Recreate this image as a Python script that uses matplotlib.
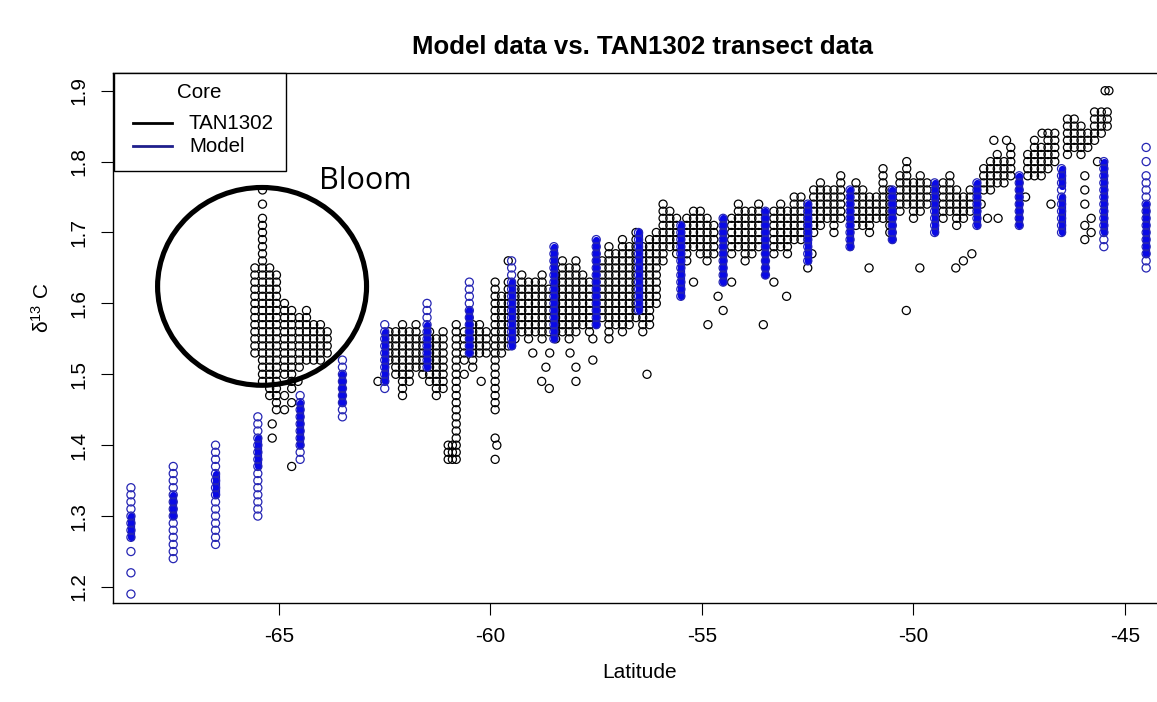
import numpy as np
import matplotlib
matplotlib.use("Agg")
import matplotlib.pyplot as plt
from matplotlib.patches import Ellipse, Rectangle
from matplotlib.lines import Line2D

plt.rcParams["font.family"] = ["Liberation Sans", "DejaVu Sans"]
plt.rcParams["mathtext.default"] = "regular"

# ---------------- data ----------------
TITLE = "Model data vs. TAN1302 transect data"
X_TICKS = [-65, -60, -55, -50, -45]
Y_TICKS = [1.2, 1.3, 1.4, 1.5, 1.6, 1.7, 1.8, 1.9]
LEGEND_TITLE = "Core"
SERIES = ["TAN1302", "Model"]

# TAN1302: sample columns (latitude, lowest, highest), circles every 0.01
TAN_COLUMNS = [
    (-65.57, 1.53, 1.64), (-65.39, 1.49, 1.72), (-65.22, 1.47, 1.65),
    (-65.06, 1.46, 1.64), (-64.87, 1.50, 1.60), (-64.70, 1.48, 1.59),
    (-64.52, 1.51, 1.58), (-64.35, 1.52, 1.59), (-64.18, 1.52, 1.57),
    (-64.02, 1.52, 1.57), (-63.86, 1.53, 1.56),
    (-62.40, 1.52, 1.56), (-62.24, 1.50, 1.56), (-62.08, 1.47, 1.57),
    (-61.92, 1.49, 1.56), (-61.76, 1.51, 1.57), (-61.60, 1.50, 1.55),
    (-61.44, 1.49, 1.56), (-61.28, 1.47, 1.55), (-61.12, 1.48, 1.56),
    (-61.00, 1.38, 1.40), (-60.90, 1.38, 1.40), (-60.81, 1.38, 1.57),
    (-60.62, 1.52, 1.56), (-60.42, 1.51, 1.57), (-60.26, 1.53, 1.57),
    (-60.10, 1.53, 1.56), (-59.89, 1.45, 1.63), (-59.74, 1.53, 1.61),
    (-59.58, 1.54, 1.63), (-59.42, 1.55, 1.62), (-59.26, 1.56, 1.64),
    (-59.10, 1.55, 1.63), (-58.94, 1.56, 1.63), (-58.78, 1.55, 1.64),
    (-58.62, 1.56, 1.62), (-58.46, 1.55, 1.64), (-58.30, 1.56, 1.66),
    (-58.14, 1.55, 1.65), (-57.98, 1.56, 1.66), (-57.82, 1.57, 1.64),
    (-57.66, 1.56, 1.63),
    (-57.36, 1.58, 1.66), (-57.20, 1.55, 1.68), (-57.04, 1.57, 1.67),
    (-56.88, 1.56, 1.69), (-56.72, 1.57, 1.68), (-56.56, 1.58, 1.70),
    (-56.40, 1.56, 1.68), (-56.24, 1.57, 1.69), (-56.08, 1.60, 1.70),
    (-55.92, 1.66, 1.74), (-55.76, 1.68, 1.73), (-55.60, 1.67, 1.72),
    (-55.36, 1.66, 1.72), (-55.20, 1.68, 1.73), (-55.04, 1.67, 1.73),
    (-54.88, 1.66, 1.72), (-54.72, 1.67, 1.71), (-54.30, 1.67, 1.72),
    (-54.14, 1.68, 1.74), (-53.98, 1.66, 1.73), (-53.82, 1.67, 1.73),
    (-53.66, 1.68, 1.74), (-53.30, 1.67, 1.73), (-53.14, 1.68, 1.74),
    (-52.98, 1.67, 1.73), (-52.82, 1.69, 1.75),
    (-52.66, 1.69, 1.75), (-52.36, 1.70, 1.76), (-52.20, 1.71, 1.77),
    (-52.04, 1.72, 1.76), (-51.88, 1.70, 1.76), (-51.72, 1.72, 1.78),
    (-51.36, 1.71, 1.77), (-51.20, 1.71, 1.76), (-51.04, 1.70, 1.75),
    (-50.88, 1.72, 1.75), (-50.72, 1.72, 1.79), (-50.56, 1.70, 1.76),
    (-50.32, 1.73, 1.78), (-50.16, 1.74, 1.80), (-50.00, 1.72, 1.77),
    (-49.84, 1.73, 1.78), (-49.68, 1.74, 1.77), (-49.30, 1.72, 1.77),
    (-49.14, 1.73, 1.78), (-48.98, 1.71, 1.76), (-48.82, 1.72, 1.75),
    (-48.66, 1.73, 1.76),
    (-48.34, 1.76, 1.79), (-48.18, 1.76, 1.80), (-48.02, 1.77, 1.81),
    (-47.86, 1.77, 1.80), (-47.70, 1.78, 1.82), (-47.30, 1.78, 1.81),
    (-47.14, 1.78, 1.83), (-46.98, 1.78, 1.82), (-46.82, 1.79, 1.84),
    (-46.66, 1.80, 1.84),
    (-46.36, 1.81, 1.86), (-46.20, 1.82, 1.86), (-46.04, 1.81, 1.85),
    (-45.88, 1.82, 1.84), (-45.72, 1.83, 1.87), (-45.56, 1.84, 1.87),
    (-45.42, 1.85, 1.87),
]
# TAN1302: isolated samples
TAN_LAT = [-65.57, -65.39, -65.39, -65.16, -65.16, -65.06, -64.87, -64.87,
           -64.70, -64.70, -64.55, -62.66, -60.62, -60.22, -59.89, -59.85,
           -59.89, -59.58, -59.00, -58.79, -58.69, -58.61, -58.60, -58.12,
           -57.98, -57.98, -57.58, -57.58, -56.30, -55.20, -54.62, -54.50,
           -54.86, -54.30, -53.30, -53.00, -53.55, -52.40, -52.50, -51.05,
           -50.17, -49.85, -49.00, -48.82, -48.62, -48.10, -47.80, -48.00,
           -47.35, -46.96, -46.75, -48.40, -48.25, -45.47, -45.38, -45.95,
           -45.95, -45.95, -45.95, -45.95, -45.80, -45.80, -45.65]
TAN_VAL = [1.65, 1.74, 1.76, 1.43, 1.41, 1.45, 1.47, 1.45,
           1.46, 1.37, 1.49, 1.49, 1.50, 1.49, 1.41, 1.40,
           1.38, 1.66, 1.53, 1.49, 1.51, 1.48, 1.53, 1.53,
           1.51, 1.49, 1.52, 1.55, 1.50, 1.63, 1.61, 1.59,
           1.57, 1.63, 1.63, 1.61, 1.57, 1.67, 1.65, 1.65,
           1.59, 1.65, 1.65, 1.66, 1.67, 1.83, 1.83, 1.72,
           1.75, 1.84, 1.74, 1.74, 1.72, 1.90, 1.90, 1.78,
           1.76, 1.74, 1.71, 1.69, 1.72, 1.70, 1.80]

# Model: columns of open circles (latitude, lowest, highest), every 0.01
MODEL_COLUMNS = [
    (-68.5, 1.27, 1.34), (-67.5, 1.24, 1.37), (-66.5, 1.26, 1.40),
    (-65.5, 1.30, 1.44), (-64.5, 1.38, 1.47), (-63.5, 1.44, 1.52),
    (-62.5, 1.48, 1.57), (-61.5, 1.51, 1.60), (-60.5, 1.53, 1.63),
    (-59.5, 1.54, 1.66), (-58.5, 1.55, 1.68), (-57.5, 1.57, 1.69),
    (-56.5, 1.59, 1.70), (-55.5, 1.61, 1.71), (-54.5, 1.63, 1.72),
    (-53.5, 1.64, 1.73), (-52.5, 1.66, 1.74), (-51.5, 1.68, 1.76),
    (-50.5, 1.69, 1.76), (-49.5, 1.70, 1.77), (-48.5, 1.71, 1.77),
    (-47.5, 1.71, 1.78), (-46.5, 1.70, 1.79), (-45.5, 1.68, 1.80),
    (-44.5, 1.65, 1.77),
]
# Model: densely overlapping runs (latitude, from, to)
MODEL_DENSE = [
    (-68.5, 1.27, 1.30), (-67.5, 1.30, 1.33), (-66.5, 1.33, 1.36),
    (-65.5, 1.37, 1.41), (-64.5, 1.40, 1.46), (-63.5, 1.46, 1.50),
    (-62.5, 1.49, 1.56), (-61.5, 1.51, 1.57), (-60.5, 1.53, 1.59),
    (-59.5, 1.54, 1.63), (-58.5, 1.55, 1.68), (-57.5, 1.57, 1.69),
    (-56.5, 1.59, 1.70), (-55.5, 1.61, 1.71), (-54.5, 1.63, 1.72),
    (-53.5, 1.64, 1.73), (-52.5, 1.66, 1.74), (-51.5, 1.68, 1.76),
    (-50.5, 1.69, 1.76), (-49.5, 1.70, 1.77), (-48.5, 1.71, 1.77),
    (-47.5, 1.71, 1.78), (-46.5, 1.70, 1.75), (-46.5, 1.765, 1.79),
    (-45.5, 1.70, 1.80), (-44.5, 1.67, 1.74),
]
MODEL_LAT = [-68.5, -68.5, -68.5, -44.5, -44.5, -44.5]
MODEL_VAL = [1.25, 1.22, 1.19, 1.78, 1.80, 1.82]

BLOOM_CENTER = (-65.40, 1.624)
BLOOM_SIZE = (4.94, 0.279)


def expand(columns):
    xs, ys = [], []
    for lat, lo, hi in columns:
        vals = np.round(np.arange(lo, hi + 0.001, 0.01), 2)
        xs.extend([lat] * len(vals))
        ys.extend(vals)
    return np.array(xs), np.array(ys)


tan_x, tan_y = expand(TAN_COLUMNS)
tan_x = np.concatenate([tan_x, TAN_LAT])
tan_y = np.concatenate([tan_y, TAN_VAL])
mod_x, mod_y = expand(MODEL_COLUMNS)
mod_x = np.concatenate([mod_x, MODEL_LAT])
mod_y = np.concatenate([mod_y, MODEL_VAL])

# ---------------- figure ----------------
W, H = 1157, 702
fig = plt.figure(figsize=(W / 100, H / 100), dpi=100)
ax = fig.add_axes([113 / W, 1 - 603 / H, (1167 - 113) / W, (603 - 72.7) / H])


def fx(x):
    return x / W


def fy(y):
    return 1 - y / H


BLUE = "#0a0ae6"
ax.scatter(tan_x, tan_y, s=34, facecolors="none", edgecolors="black",
           linewidths=0.9, zorder=2)
for lat, lo, hi in MODEL_DENSE:
    ax.vlines(lat, lo, hi, colors=BLUE, linewidth=5.2, capstyle="round", zorder=3)
ax.scatter(mod_x, mod_y, s=34, facecolors="none", edgecolors="#2626b4",
           linewidths=0.9, zorder=4)

ax.add_patch(Ellipse(BLOOM_CENTER, BLOOM_SIZE[0], BLOOM_SIZE[1], fill=False,
                     edgecolor="black", linewidth=3.7, zorder=5))
ax.text(-64.05, 1.761, "Bloom", fontsize=22, family=["Open Sans", "DejaVu Sans"],
        ha="left", va="baseline", zorder=6)

ax.set_xlim(-68.924, -44.007)
ax.set_ylim(1.1774, 1.9254)
ax.set_xticks(X_TICKS)
ax.set_xticklabels([str(t) for t in X_TICKS])
ax.set_yticks(Y_TICKS)
ax.set_yticklabels([f"{t:.1f}" for t in Y_TICKS], rotation=90, va="center")
ax.tick_params(axis="both", length=8.6, width=0.8, labelsize=15, color="black")
ax.tick_params(axis="x", pad=9)
ax.tick_params(axis="y", pad=9)
for sp in ax.spines.values():
    sp.set_linewidth(1.0)
ax.spines["right"].set_visible(False)

fig.text(fx(643), fy(47), TITLE, ha="center", va="center",
         fontsize=18.5, fontweight="bold")
fig.text(fx(640), fy(672), "Latitude", ha="center", va="center", fontsize=15)
fig.text(fx(42), fy(308), "δ$^{13}$ C", ha="center", va="center",
         rotation=90, fontsize=15)

# legend (R style box in the top-left corner)
fig.add_artist(Rectangle((fx(113.5), fy(171)), fx(286) - fx(113.5), fy(72.7) - fy(171),
                         transform=fig.transFigure, facecolor="white",
                         edgecolor="black", linewidth=1.0, zorder=10))
fig.text(fx(199), fy(92), LEGEND_TITLE, ha="center", va="center", fontsize=14.8,
         zorder=11)
for (row_y, name, col) in [(122.7, SERIES[0], "black"), (146, SERIES[1], "#1f1f8c")]:
    fig.add_artist(Line2D([fx(132.7), fx(171.7)], [fy(row_y), fy(row_y)],
                          transform=fig.transFigure, color=col, linewidth=2.0,
                          zorder=11))
    fig.text(fx(189), fy(row_y + 1), name, ha="left", va="center", fontsize=14.8,
             zorder=11)

fig.savefig("out.png", dpi=100)
